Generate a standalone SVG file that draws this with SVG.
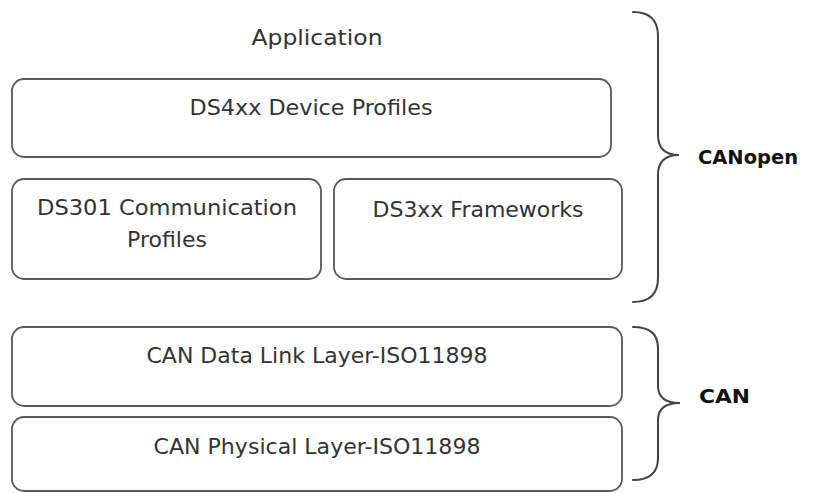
<svg xmlns="http://www.w3.org/2000/svg" width="814" height="493" viewBox="0 0 814 493">
  <style>
    .box { fill: #ffffff; stroke: #5a5a5a; stroke-width: 1.8; }
    .lbl { font-family: "DejaVu Sans", "Liberation Sans", sans-serif; font-size: 22px; fill: #333333; text-anchor: middle; }
    .brace { fill: none; stroke: #444444; stroke-width: 2; stroke-linecap: round; }
    .grp { font-family: "DejaVu Sans", "Liberation Sans", sans-serif; font-size: 20px; font-weight: bold; fill: #111111; }
  </style>
  <rect width="814" height="493" fill="#ffffff"/>

  <g id="application">
    <text class="lbl" x="317" y="45" textLength="131" lengthAdjust="spacingAndGlyphs">Application</text>
  </g>

  <g id="ds4xx">
    <rect class="box" x="12" y="79" width="599" height="78" rx="12"/>
    <text class="lbl" x="311" y="115" textLength="243" lengthAdjust="spacingAndGlyphs">DS4xx Device Profiles</text>
  </g>

  <g id="ds301">
    <rect class="box" x="12" y="179" width="309" height="100" rx="12"/>
    <text class="lbl" x="167" y="215" textLength="260" lengthAdjust="spacingAndGlyphs">DS301 Communication</text>
    <text class="lbl" x="167" y="247">Profiles</text>
  </g>

  <g id="ds3xx">
    <rect class="box" x="334" y="179" width="288" height="100" rx="12"/>
    <text class="lbl" x="478" y="217" textLength="211" lengthAdjust="spacingAndGlyphs">DS3xx Frameworks</text>
  </g>

  <g id="datalink">
    <rect class="box" x="12" y="327" width="610" height="79" rx="12"/>
    <text class="lbl" x="317" y="363" textLength="341" lengthAdjust="spacingAndGlyphs">CAN Data Link Layer-ISO11898</text>
  </g>

  <g id="physical">
    <rect class="box" x="12" y="417" width="610" height="74" rx="12"/>
    <text class="lbl" x="317" y="454" textLength="327" lengthAdjust="spacingAndGlyphs">CAN Physical Layer-ISO11898</text>
  </g>

  <g id="connectors">
    <path class="brace" d="M633,12 Q658,12 658,36 L658,135 Q658,155 679,155 Q658,155 658,175 L658,278 Q658,302 633,302"/>
    <path class="brace" d="M633,327 Q658,327 658,348 L658,386 Q658,403 680,403 Q658,403 658,420 L658,458 Q658,480 633,480"/>
  </g>

  <g id="canopen-label">
    <text class="grp" x="698" y="164" textLength="100" lengthAdjust="spacingAndGlyphs">CANopen</text>
  </g>
  <g id="can-label">
    <text class="grp" x="699" y="403" textLength="51" lengthAdjust="spacingAndGlyphs">CAN</text>
  </g>
</svg>
